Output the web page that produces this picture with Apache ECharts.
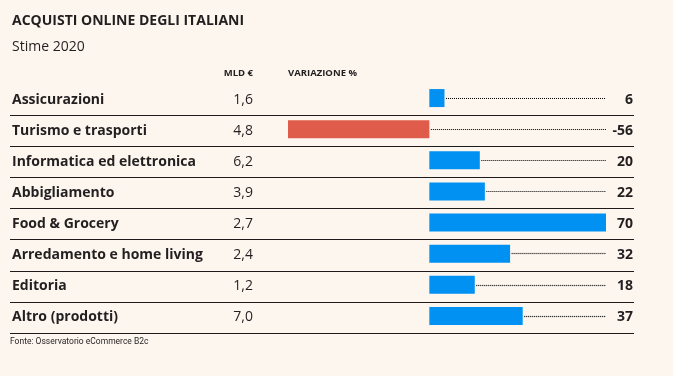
<!DOCTYPE html>
<html>
<head>
<meta charset="utf-8">
<script src="https://cdn.jsdelivr.net/npm/echarts@6/dist/echarts.min.js"></script>
<style>
  html, body { margin: 0; padding: 0; background: #fcf6ef; }
  #chart { width: 673px; height: 376px; }
</style>
</head>
<body>
<div id="chart"></div>
<script>
const categories = [
  "Assicurazioni",
  "Turismo e trasporti",
  "Informatica ed elettronica",
  "Abbigliamento",
  "Food & Grocery",
  "Arredamento e home living",
  "Editoria",
  "Altro (prodotti)"
];
const mld = ["1,6", "4,8", "6,2", "3,9", "2,7", "2,4", "1,2", "7,0"];
const variazione = [6, -56, 20, 22, 70, 32, 18, 37];

const TEXT = "#231f20";
const FONT = "Open Sans";
const xMin = -56, xMax = 70;

const chart = echarts.init(document.getElementById("chart"), null, { renderer: "canvas" });

// dotted leader from the end of each bar to the right edge of the scale
const dotted = categories
  .map((c, i) => {
    const start = Math.max(variazione[i], 0);
    if (start >= xMax) return null;
    return [{ coord: [start + 0.6, c] }, { coord: [xMax, c] }];
  })
  .filter(Boolean);

chart.setOption({
  backgroundColor: "#fcf6ef",
  animation: false,
  textStyle: { fontFamily: FONT, color: TEXT },
  title: [
    {
      text: "ACQUISTI ONLINE DEGLI ITALIANI",
      left: 12, top: 14, padding: 0,
      textStyle: { fontFamily: FONT, fontSize: 14, fontWeight: "bold", color: TEXT }
    },
    {
      text: "Stime 2020",
      left: 12, top: 40, padding: 0,
      textStyle: { fontFamily: FONT, fontSize: 14, fontWeight: "normal", color: TEXT }
    },
    {
      text: "MLD €",
      right: 673 - 253, top: 68, padding: 0,
      textStyle: { fontFamily: FONT, fontSize: 9.5, fontWeight: "bold", color: TEXT }
    },
    {
      text: "VARIAZIONE %",
      left: 288, top: 68, padding: 0,
      textStyle: { fontFamily: FONT, fontSize: 9.5, fontWeight: "bold", color: TEXT }
    },
    {
      text: "Fonte: Osservatorio eCommerce B2c",
      left: 10, top: 337, padding: 0,
      textStyle: { fontFamily: "Roboto", fontSize: 8.5, fontWeight: "normal", color: TEXT }
    }
  ],
  grid: [
    { left: 10, right: 39, top: 84, height: 249, containLabel: false },
    { left: 288, right: 673 - 606, top: 82.5, height: 249, containLabel: false }
  ],
  xAxis: [
    { gridIndex: 0, type: "value", show: false },
    { gridIndex: 1, type: "value", min: xMin, max: xMax, show: false }
  ],
  yAxis: [
    {
      gridIndex: 0,
      type: "category",
      inverse: true,
      data: categories,
      axisLine: { show: false },
      axisTick: { show: false },
      splitLine: {
        show: true,
        interval: (i) => i > 0,
        lineStyle: { color: "#1f1b1b", width: 1 }
      },
      axisLabel: {
        inside: true,
        margin: 2,
        formatter: (v, i) => `{n|${v}}{m|${mld[i]}}`,
        rich: {
          n: { width: 200, fontFamily: FONT, fontSize: 14, fontWeight: "bold", color: TEXT, align: "left" },
          m: { width: 41, fontFamily: FONT, fontSize: 14, color: TEXT, align: "right" }
        }
      }
    },
    {
      gridIndex: 0,
      type: "category",
      position: "right",
      inverse: true,
      data: variazione.map(String),
      axisLine: { show: false },
      axisTick: { show: false },
      splitLine: { show: false },
      axisLabel: {
        inside: true,
        margin: 1,
        align: "right",
        fontFamily: FONT,
        fontSize: 14,
        fontWeight: "bold",
        color: TEXT
      }
    },
    {
      gridIndex: 1,
      type: "category",
      inverse: true,
      data: categories,
      show: false
    }
  ],
  series: [
    {
      type: "bar",
      xAxisIndex: 1,
      yAxisIndex: 2,
      data: variazione,
      barWidth: 18,
      itemStyle: {
        color: (p) => (p.value < 0 ? "#e05c4a" : "#0091f3")
      },
      markLine: {
        silent: true,
        symbol: "none",
        label: { show: false },
        lineStyle: { color: "#000", width: 1.2, type: [1, 1] },
        data: dotted
      }
    }
  ]
});
</script>
</body>
</html>
